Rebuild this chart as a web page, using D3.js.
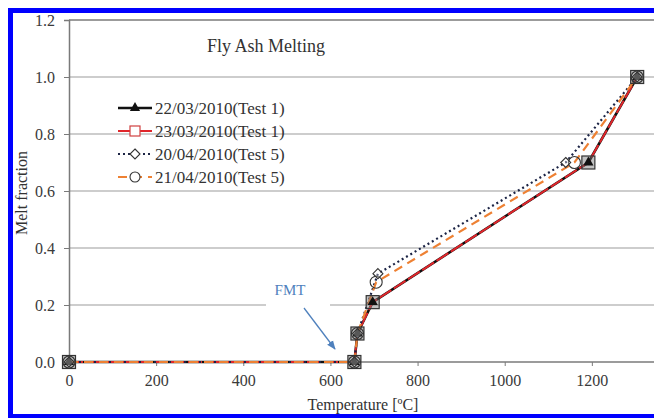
<!DOCTYPE html>
<html>
<head>
<meta charset="utf-8">
<script src="https://cdn.jsdelivr.net/npm/d3@7/dist/d3.min.js"></script>
<style>
  html, body { margin: 0; padding: 0; background: #fff; }
  svg { display: block; }
  svg text { font-family: "Liberation Serif", "Times New Roman", serif !important; }
</style>
</head>
<body>
<svg id="chart" width="654" height="418"></svg>
<script>
// Melt fraction of fly ash against temperature, four test runs
const seriesNames = ["22/03/2010(Test 1)", "23/03/2010(Test 1)", "20/04/2010(Test 5)", "21/04/2010(Test 5)"];
const tempTest1a = [0, 655, 662, 697, 1192, 1304];
const meltTest1a = [0, 0, 0.1, 0.21, 0.7, 1.0];
const tempTest1b = [0, 655, 662, 697, 1192, 1304];
const meltTest1b = [0, 0, 0.1, 0.21, 0.7, 1.0];
const tempTest5a = [0, 655, 662, 709, 1140, 1304];
const meltTest5a = [0, 0, 0.1, 0.31, 0.7, 1.0];
const tempTest5b = [0, 655, 662, 705, 1160, 1304];
const meltTest5b = [0, 0, 0.1, 0.28, 0.7, 1.0];
const xTicks = [0, 200, 400, 600, 800, 1000, 1200];
const yTicks = [0, 0.2, 0.4, 0.6, 0.8, 1.0, 1.2];

const SERIF = "'Liberation Serif', 'Times New Roman', serif";
const svg = d3.select("#chart").attr("font-family", SERIF);
const W = 654, H = 418;

const x = d3.scaleLinear().domain([0, 1400]).range([69, 679]);
const y = d3.scaleLinear().domain([0, 1.2]).range([362, 20]);

// Gridlines
svg.append("g").selectAll("line")
  .data(yTicks.filter(d => d > 0 && d < 1.2))
  .join("line")
  .attr("x1", x(0)).attr("x2", W)
  .attr("y1", d => y(d)).attr("y2", d => y(d))
  .attr("stroke", "#bdbdbd").attr("stroke-width", 1.3);

// Plot frame top
svg.append("line")
  .attr("x1", x(0)).attr("x2", W).attr("y1", y(1.2)).attr("y2", y(1.2))
  .attr("stroke", "#7a7a7a").attr("stroke-width", 1.5);

// Axes
const xAxis = d3.axisBottom(x).tickValues(xTicks).tickFormat(d3.format("d")).tickSize(4).tickPadding(9);
const yAxis = d3.axisLeft(y).tickValues(yTicks).tickFormat(d3.format(".1f")).tickSize(5).tickPadding(9);

const gx = svg.append("g").attr("transform", `translate(0,${y(0)})`).call(xAxis);
gx.select(".domain").attr("d", `M${x(0)},0H${W}`).attr("stroke", "#7a7a7a").attr("stroke-width", 1.5);
const gy = svg.append("g").attr("transform", `translate(${x(0)},0)`).call(yAxis);
gy.select(".domain").attr("stroke", "#7a7a7a").attr("stroke-width", 1.5);
[gx, gy].forEach(g => {
  g.attr("font-family", SERIF).attr("font-size", 16);
  g.selectAll(".tick line").attr("stroke", "#7a7a7a");
  g.selectAll(".tick text").attr("fill", "#3a3a3a");
});

// Axis titles
svg.append("text").attr("x", 363).attr("y", 410).attr("text-anchor", "middle")
  .attr("fill", "#333").attr("font-size", 16).text("Temperature [ºC]");
svg.append("text").attr("transform", `translate(27,193) rotate(-90)`).attr("text-anchor", "middle")
  .attr("fill", "#333").attr("font-size", 16).text("Melt fraction");

// Chart title
svg.append("text").attr("x", 207).attr("y", 52).attr("fill", "#333")
  .attr("font-size", 18).text("Fly Ash Melting");

// FMT annotation
svg.append("rect").attr("x", 266).attr("y", 276).attr("width", 64).attr("height", 34).attr("fill", "#fff");
svg.append("text").attr("x", 290).attr("y", 295).attr("text-anchor", "middle")
  .attr("fill", "#4f81bd").attr("font-size", 15).text("FMT");
const defs = svg.append("defs");
defs.append("marker").attr("id", "arrowHead").attr("viewBox", "0 0 10 10")
  .attr("refX", 9).attr("refY", 5).attr("markerWidth", 7).attr("markerHeight", 7)
  .attr("orient", "auto")
  .append("path").attr("d", "M0,1L10,5L0,9z").attr("fill", "#4f81bd");
svg.append("line").attr("x1", 304).attr("y1", 308).attr("x2", 335).attr("y2", 349)
  .attr("stroke", "#4f81bd").attr("stroke-width", 1.3).attr("marker-end", "url(#arrowHead)");

// Series definitions
const series = [
  { name: seriesNames[0], xs: tempTest1a, ys: meltTest1a, color: "#111", width: 2.6, dash: null, marker: "triangle" },
  { name: seriesNames[1], xs: tempTest1b, ys: meltTest1b, color: "#e0262b", width: 2, dash: "14,3", marker: "square" },
  { name: seriesNames[2], xs: tempTest5a, ys: meltTest5a, color: "#1c2445", width: 2.2, dash: "2,3", marker: "diamond" },
  { name: seriesNames[3], xs: tempTest5b, ys: meltTest5b, color: "#ee8133", width: 2.2, dash: "9,6", marker: "circle" }
];

const line = d3.line().x(d => x(d[0])).y(d => y(d[1]));

function drawMarker(g, type, cx, cy, legend) {
  if (type === "triangle") {
    g.append("path").attr("transform", `translate(${cx},${cy})`)
      .attr("d", d3.symbol(d3.symbolTriangle, 45)()).attr("fill", "#111");
  } else if (type === "square") {
    const h = legend ? 5 : 6.5;
    g.append("rect").attr("x", cx - h).attr("y", cy - h).attr("width", 2 * h).attr("height", 2 * h)
      .attr("fill", legend ? "#fff" : "rgba(120,120,120,0.45)")
      .attr("stroke", legend ? "#d04040" : "#333").attr("stroke-width", 1.2);
  } else if (type === "diamond") {
    g.append("path").attr("transform", `translate(${cx},${cy})`)
      .attr("d", "M0,-5L5,0L0,5L-5,0Z").attr("fill", "#fff").attr("fill-opacity", legend ? 1 : 0.3)
      .attr("stroke", "#333").attr("stroke-width", 1.1);
  } else if (type === "circle") {
    g.append("circle").attr("cx", cx).attr("cy", cy).attr("r", legend ? 5 : 6)
      .attr("fill", legend ? "#fff" : "none").attr("stroke", "#333").attr("stroke-width", 1.1);
  }
}

const plot = svg.append("g");
series.forEach(s => {
  const pts = s.xs.map((v, i) => [v, s.ys[i]]);
  plot.append("path").datum(pts).attr("d", line)
    .attr("fill", "none").attr("stroke", s.color).attr("stroke-width", s.width)
    .attr("stroke-dasharray", s.dash);
});
// Markers drawn after lines, square first so others sit on top
["square", "triangle", "circle", "diamond"].forEach(m => {
  const s = series.find(t => t.marker === m);
  s.xs.forEach((v, i) => drawMarker(plot, m, x(v), y(s.ys[i]), false));
});

// Legend
const legend = svg.append("g");
const legendY = [108, 131, 154, 177];
series.forEach((s, i) => {
  const ly = legendY[i];
  legend.append("line").attr("x1", 118).attr("x2", 152).attr("y1", ly).attr("y2", ly)
    .attr("stroke", s.color).attr("stroke-width", s.width)
    .attr("stroke-dasharray", s.marker === "square" ? null : s.dash);
  drawMarker(legend, s.marker, 135, ly, true);
  legend.append("text").attr("x", 155).attr("y", ly + 6).attr("fill", "#333")
    .attr("font-size", 17).text(s.name);
});

// Blue frame
svg.append("rect").attr("x", 8).attr("y", 8).attr("width", W).attr("height", 5).attr("fill", "#0000ff");
svg.append("rect").attr("x", 8).attr("y", 8).attr("width", 5).attr("height", H).attr("fill", "#0000ff");
svg.append("rect").attr("x", 8).attr("y", 414).attr("width", W).attr("height", 4).attr("fill", "#0000ff");
</script>
</body>
</html>
